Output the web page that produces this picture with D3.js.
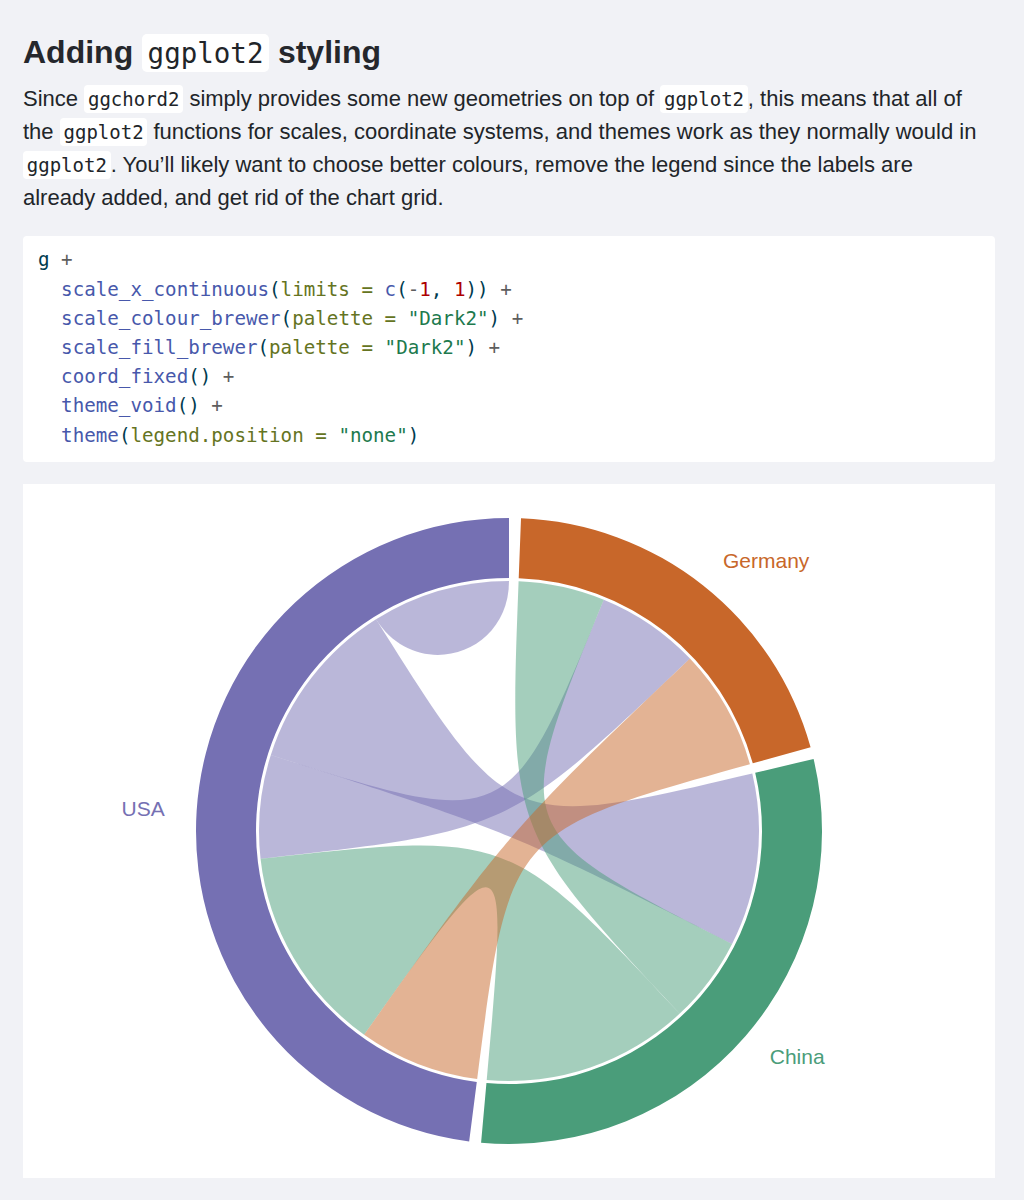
<!DOCTYPE html>
<html>
<head>
<meta charset="utf-8">
<script src="https://cdn.jsdelivr.net/npm/d3@7"></script>
<style>
html, body { margin: 0; padding: 0; background: #f1f2f6; }
body { width: 1024px; height: 1200px; position: relative; overflow: hidden;
  font-family: "Liberation Sans", Arial, Helvetica, sans-serif; color: #212529; }
.h { position: absolute; left: 23px; top: 31.6px; font-size: 32px; line-height: 40px;
  font-weight: bold; white-space: pre; color: #25272c; }
.p { position: absolute; left: 23px; font-size: 22px; line-height: 33px; white-space: pre; }
code { font-family: "DejaVu Sans Mono", monospace; background: #fff; border-radius: 4px;
  padding: 3px 0.2em; font-weight: normal; color: #212529; }
.h code { font-size: 27.5px; border-radius: 5px; }
.p code { font-size: 19px; }
.codebox { position: absolute; left: 23px; top: 236px; width: 972px; height: 226px;
  background: #fff; border-radius: 4px; }
.code { position: absolute; left: 38px; top: 245.3px; margin: 0; font-family: "DejaVu Sans Mono", monospace;
  font-size: 19.2px; line-height: 29.2px; white-space: pre; color: #003B4F; }
.fu { color: #4758AB; } .at { color: #657422; } .st { color: #20794D; }
.dv { color: #AD0000; } .op { color: #5E5E5E; } .ot { color: #003B4F; }
#chart { position: absolute; left: 23px; top: 484px; }
</style>
</head>
<body>
<div class="h">Adding <code>ggplot2</code> styling</div>
<div class="p" style="top:82px">Since <code>ggchord2</code> simply provides some new geometries on top of <code>ggplot2</code>, this means that all of</div>
<div class="p" style="top:115px">the <code>ggplot2</code> functions for scales, coordinate systems, and themes work as they normally would in</div>
<div class="p" style="top:148px"><code>ggplot2</code>. You’ll likely want to choose better colours, remove the legend since the labels are</div>
<div class="p" style="top:181px">already added, and get rid of the chart grid.</div>
<div class="codebox"></div>
<pre class="code"><span class="ot">g</span><span class="op"> +</span>
  <span class="fu">scale_x_continuous</span><span class="ot">(</span><span class="at">limits =</span> <span class="fu">c</span><span class="ot">(</span><span class="op">-</span><span class="dv">1</span><span class="ot">, </span><span class="dv">1</span><span class="ot">))</span><span class="op"> +</span>
  <span class="fu">scale_colour_brewer</span><span class="ot">(</span><span class="at">palette =</span> <span class="st">"Dark2"</span><span class="ot">)</span><span class="op"> +</span>
  <span class="fu">scale_fill_brewer</span><span class="ot">(</span><span class="at">palette =</span> <span class="st">"Dark2"</span><span class="ot">)</span><span class="op"> +</span>
  <span class="fu">coord_fixed</span><span class="ot">()</span><span class="op"> +</span>
  <span class="fu">theme_void</span><span class="ot">()</span><span class="op"> +</span>
  <span class="fu">theme</span><span class="ot">(</span><span class="at">legend.position =</span> <span class="st">"none"</span><span class="ot">)</span></pre>
<svg id="chart" width="972" height="694"></svg>
<script>
// ---- data ----
const groups = ["Germany", "China", "USA"];          // clockwise from 12 o'clock
const flowFrom = ["USA", "USA", "USA", "Germany", "China", "China"];
const flowTo = ["USA", "Germany", "China", "USA", "Germany", "USA"];
const flowValue = [8, 6, 10, 7, 5, 12];
const groupColours = ["#c8672a", "#4a9d7a", "#7570b3"];

// ---- layout ----
const W = 972, H = 694;
const cx = 486, cy = 347;
const rOuter = 313, rInner = 253, rChord = 250;
const pad = 2.2 * Math.PI / 180;
const selfBend = 0.7;
const labelR = 345;

const colour = d3.scaleOrdinal(groups, groupColours);
const flows = flowValue.map((v, i) => ({ from: flowFrom[i], to: flowTo[i], value: v, i }));
const groupTotal = g => d3.sum(flows.filter(f => f.from === g || f.to === g), f => f.value);
const total = d3.sum(groups, groupTotal);
const ang = d3.scaleLinear().domain([0, total]).range([0, 2 * Math.PI - groups.length * pad]);

const arcs = [];
let cum = 0;
groups.forEach((g, gi) => {
  const start = (gi + 1) * pad + ang(cum);
  const incoming = flows.filter(f => f.to === g && f.from !== g)
    .sort((a, b) => groups.indexOf(a.from) - groups.indexOf(b.from));
  const outgoing = flows.filter(f => f.from === g)
    .sort((a, b) => groups.indexOf(a.to) - groups.indexOf(b.to));
  let c = cum;
  incoming.forEach(f => { f.tArc = [(gi + 1) * pad + ang(c), (gi + 1) * pad + ang(c + f.value)]; c += f.value; });
  outgoing.forEach(f => {
    f.sArc = [(gi + 1) * pad + ang(c), (gi + 1) * pad + ang(c + f.value)];
    if (f.to === g) f.tArc = f.sArc;
    c += f.value;
  });
  cum += groupTotal(g);
  arcs.push({ name: g, startAngle: start, endAngle: (gi + 1) * pad + ang(cum) });
});

const pt = (a, r) => [r * Math.sin(a), -r * Math.cos(a)];
function ribbonPath(f) {
  const p = d3.path();
  const s = f.sArc, t = f.tArc, r = rChord;
  const S0 = pt(s[0], r), S1 = pt(s[1], r), T0 = pt(t[0], r);
  p.moveTo(S0[0], S0[1]);
  p.arc(0, 0, r, s[0] - Math.PI / 2, s[1] - Math.PI / 2);
  if (f.from === f.to) {
    p.bezierCurveTo(selfBend * S1[0], selfBend * S1[1], selfBend * S0[0], selfBend * S0[1], S0[0], S0[1]);
  } else {
    p.bezierCurveTo(0, 0, 0, 0, T0[0], T0[1]);
    p.arc(0, 0, r, t[0] - Math.PI / 2, t[1] - Math.PI / 2);
    p.bezierCurveTo(0, 0, 0, 0, S0[0], S0[1]);
  }
  p.closePath();
  return p.toString();
}

const svg = d3.select("#chart");
svg.append("rect").attr("width", W).attr("height", H).attr("fill", "#fff");
const g = svg.append("g").attr("transform", `translate(${cx},${cy})`);

const drawOrder = groups.slice().reverse();
const sorted = flows.slice().sort((a, b) => drawOrder.indexOf(a.from) - drawOrder.indexOf(b.from) || a.i - b.i);
g.selectAll("path.ribbon").data(sorted).join("path")
  .attr("class", "ribbon")
  .attr("d", ribbonPath)
  .attr("fill", d => colour(d.from))
  .attr("fill-opacity", 0.5);

const arcGen = d3.arc().innerRadius(rInner).outerRadius(rOuter);
g.selectAll("path.group").data(arcs).join("path")
  .attr("class", "group")
  .attr("d", arcGen)
  .attr("fill", d => colour(d.name));

g.selectAll("text.label").data(arcs).join("text")
  .attr("class", "label")
  .each(function (d) {
    const m = (d.startAngle + d.endAngle) / 2;
    const [x, y] = pt(m, labelR);
    d3.select(this).attr("x", x).attr("y", y)
      .attr("text-anchor", Math.sin(m) >= 0 ? "start" : "end");
  })
  .attr("dy", "0.35em")
  .attr("font-family", "Liberation Sans, Arial, sans-serif")
  .attr("font-size", 21)
  .attr("fill", d => colour(d.name))
  .text(d => d.name);
</script>
</body>
</html>
